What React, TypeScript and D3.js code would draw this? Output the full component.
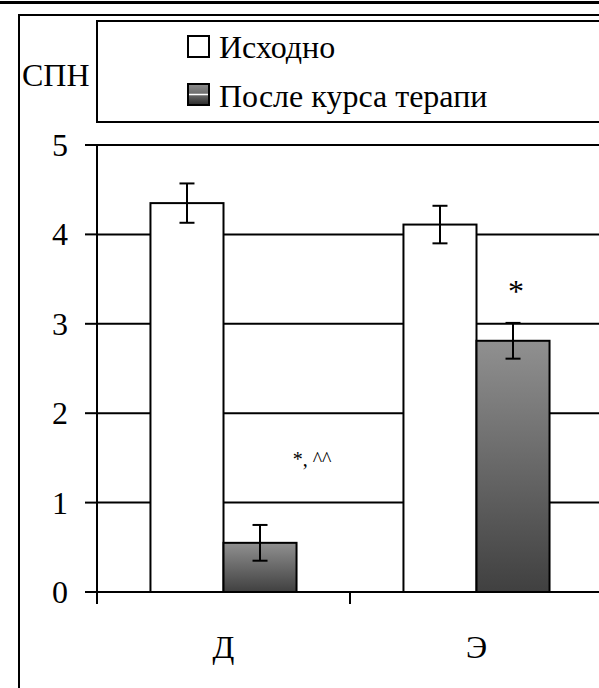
import React from "react";
import * as d3 from "d3";

const categories = ["Д", "Э"];
const seriesNames = ["Исходно", "После курса терапи"];
const baseline = [4.35, 4.11];
const afterTherapy = [0.55, 2.81];
const baselineErr = [0.22, 0.21];
const afterErr = [0.2, 0.2];
const annotations = ["*, ^^", "*"];
const yTicks = [0, 1, 2, 3, 4, 5];

const W = 599;
const H = 688;
const f = "Liberation Serif";

export default function App() {
  const x = d3.scaleBand<string>().domain(categories).range([97, 603]).paddingInner(0).paddingOuter(0);
  const inner = d3.scaleBand<number>().domain([0, 1]).range([0, x.bandwidth()]).paddingOuter(0.732).paddingInner(0);
  const y = d3.scaleLinear().domain([0, 5]).range([592, 145]);

  const series = [
    { values: baseline, errs: baselineErr, fill: "#ffffff" },
    { values: afterTherapy, errs: afterErr, fill: "url(#darkGrad)" },
  ];

  return (
    <svg width={W} height={H} style={{ position: "absolute", left: 0, top: 0 }}>
      <defs>
        <linearGradient id="darkGrad" x1="0" y1="0" x2="0" y2="1">
          <stop offset="0" stopColor="#909090" />
          <stop offset="1" stopColor="#404040" />
        </linearGradient>
        <linearGradient id="legGradTop" x1="0" y1="0" x2="0" y2="1">
          <stop offset="0" stopColor="#8c8c8c" />
          <stop offset="1" stopColor="#6a6a6a" />
        </linearGradient>
        <linearGradient id="legGradBot" x1="0" y1="0" x2="0" y2="1">
          <stop offset="0" stopColor="#6a6a6a" />
          <stop offset="1" stopColor="#2a2a2a" />
        </linearGradient>
      </defs>
      <rect x={0} y={0} width={W} height={H} fill="#fff" />
      <line x1={0} x2={W} y1={2.5} y2={2.5} stroke="#000" strokeWidth={3} />
      <rect x={19} y={15} width={W} height={H} fill="none" stroke="#000" strokeWidth={2} />

      {yTicks.filter((t) => t > 0).map((t) => (
        <line key={"g" + t} x1={97} x2={W + 5} y1={y(t)} y2={y(t)} stroke="#000" strokeWidth={2} />
      ))}
      {yTicks.map((t) => (
        <g key={"t" + t}>
          <line x1={85} x2={97} y1={y(t)} y2={y(t)} stroke="#000" strokeWidth={2} />
          <text x={60} y={y(t) + 11} fontSize={32} textAnchor="middle" style={{ fontFamily: `'${f}', monospace` }}>{String(t)}</text>
        </g>
      ))}

      {categories.map((c, ci) => (
        <g key={c}>
          {series.map((s, si) => {
            const bx = (x(c) as number) + (inner(si) as number);
            const bw = inner.bandwidth();
            const v = s.values[ci];
            return (
              <rect key={si} x={bx} y={y(v)} width={bw} height={y(0) - y(v)} fill={s.fill} stroke="#000" strokeWidth={2} />
            );
          })}
        </g>
      ))}

      <line x1={97} x2={W + 5} y1={y(0)} y2={y(0)} stroke="#000" strokeWidth={2} />
      <line x1={97} x2={97} y1={y(5)} y2={y(0) + 12} stroke="#000" strokeWidth={2} />
      {categories.map((c) => (
        <line key={"xt" + c} x1={(x(c) as number) + x.bandwidth()} x2={(x(c) as number) + x.bandwidth()} y1={y(0)} y2={y(0) + 12} stroke="#000" strokeWidth={2} />
      ))}

      {categories.map((c, ci) => (
        <g key={"e" + c}>
          {series.map((s, si) => {
            const cx = (x(c) as number) + (inner(si) as number) + inner.bandwidth() / 2;
            const v = s.values[ci];
            const e = s.errs[ci];
            return (
              <g key={si} stroke="#000" strokeWidth={2}>
                <line x1={cx} x2={cx} y1={y(v + e)} y2={y(v - e)} />
                <line x1={cx - 7.5} x2={cx + 7.5} y1={y(v + e)} y2={y(v + e)} />
                <line x1={cx - 7.5} x2={cx + 7.5} y1={y(v - e)} y2={y(v - e)} />
              </g>
            );
          })}
        </g>
      ))}

      <text x={(x(categories[0]) as number) + (inner(1) as number) + inner.bandwidth() / 2 + 52} y={466} fontSize={20} textAnchor="middle" style={{ fontFamily: `'${f}', monospace` }}>{annotations[0]}</text>
      <text x={(x(categories[1]) as number) + (inner(1) as number) + inner.bandwidth() / 2 + 3} y={302} fontSize={32} textAnchor="middle" style={{ fontFamily: `'${f}', monospace` }}>{annotations[1]}</text>

      {categories.map((c) => (
        <text key={"cl" + c} x={(x(c) as number) + x.bandwidth() / 2} y={658} fontSize={32} textAnchor="middle" style={{ fontFamily: `'${f}', monospace` }}>{c}</text>
      ))}

      <text x={22} y={86} fontSize={32} style={{ fontFamily: `'${f}', monospace` }}>СПН</text>

      <rect x={97} y={21} width={W} height={101} fill="#fff" stroke="#000" strokeWidth={2} />
      <rect x={188} y={36} width={21} height={21} fill="#fff" stroke="#000" strokeWidth={2} />
      <text x={219} y={58} fontSize={32} style={{ fontFamily: `'${f}', monospace` }}>{seriesNames[0]}</text>
      <g>
        <rect x={188} y={84} width={21} height={10.5} fill="url(#legGradTop)" />
        <rect x={188} y={94.5} width={21} height={10.5} fill="url(#legGradBot)" />
        <line x1={188} x2={209} y1={94.5} y2={94.5} stroke="#fff" strokeWidth={1.5} />
        <rect x={188} y={84} width={21} height={21} fill="none" stroke="#000" strokeWidth={2} />
      </g>
      <text x={219} y={107} fontSize={32} style={{ fontFamily: `'${f}', monospace` }}>{seriesNames[1]}</text>
    </svg>
  );
}
